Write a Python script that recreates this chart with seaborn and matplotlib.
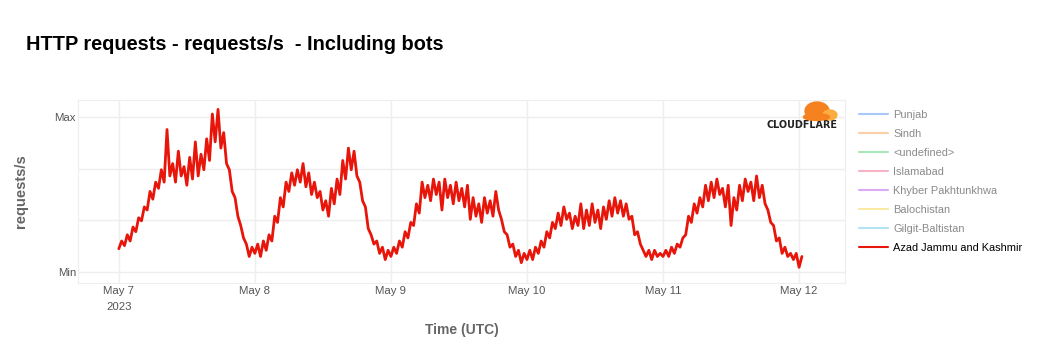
import matplotlib.pyplot as plt
from matplotlib.lines import Line2D
from matplotlib.patches import Ellipse
import pandas as pd
import seaborn as sns

# -----------------------------------------------------------------------------
# DATOS (valores normalizados: 0 = Min, 1 = Max), cada 30 minutos desde May 7
# -----------------------------------------------------------------------------
may7 = [0.15, 0.20, 0.17, 0.24, 0.20, 0.29, 0.26, 0.35, 0.33, 0.42, 0.40, 0.52,
        0.47, 0.58, 0.54, 0.66, 0.58, 0.92, 0.62, 0.70, 0.58, 0.78, 0.62, 0.68,
        0.56, 0.74, 0.60, 0.84, 0.62, 0.76, 0.66, 0.86, 0.72, 1.02, 0.84, 1.05,
        0.80, 0.90, 0.70, 0.66, 0.52, 0.48, 0.36, 0.30, 0.22, 0.18, 0.10, 0.16]
may8 = [0.12, 0.18, 0.10, 0.20, 0.14, 0.24, 0.20, 0.36, 0.32, 0.48, 0.42, 0.58,
        0.52, 0.64, 0.56, 0.66, 0.58, 0.70, 0.55, 0.64, 0.50, 0.58, 0.48, 0.52,
        0.40, 0.46, 0.36, 0.54, 0.44, 0.60, 0.50, 0.72, 0.60, 0.80, 0.66, 0.78,
        0.62, 0.58, 0.46, 0.42, 0.28, 0.24, 0.18, 0.20, 0.12, 0.16, 0.08, 0.14]
may9 = [0.10, 0.16, 0.12, 0.20, 0.16, 0.26, 0.22, 0.32, 0.30, 0.44, 0.38, 0.58,
        0.48, 0.56, 0.46, 0.60, 0.50, 0.58, 0.40, 0.60, 0.48, 0.56, 0.44, 0.58,
        0.46, 0.54, 0.42, 0.56, 0.34, 0.48, 0.36, 0.44, 0.32, 0.48, 0.38, 0.46,
        0.36, 0.52, 0.40, 0.34, 0.26, 0.24, 0.16, 0.18, 0.10, 0.14, 0.06, 0.12]
may10 = [0.08, 0.14, 0.08, 0.16, 0.12, 0.20, 0.16, 0.26, 0.22, 0.32, 0.28, 0.38,
         0.30, 0.42, 0.34, 0.38, 0.28, 0.36, 0.30, 0.44, 0.28, 0.40, 0.30, 0.44,
         0.32, 0.40, 0.28, 0.42, 0.34, 0.46, 0.36, 0.48, 0.38, 0.46, 0.36, 0.44,
         0.34, 0.36, 0.24, 0.26, 0.18, 0.14, 0.10, 0.14, 0.08, 0.14, 0.10, 0.12]
may11 = [0.10, 0.14, 0.10, 0.16, 0.12, 0.18, 0.16, 0.22, 0.24, 0.36, 0.32, 0.44,
         0.38, 0.48, 0.42, 0.56, 0.46, 0.58, 0.48, 0.60, 0.50, 0.54, 0.42, 0.56,
         0.30, 0.48, 0.40, 0.56, 0.46, 0.60, 0.52, 0.58, 0.46, 0.62, 0.48, 0.56,
         0.44, 0.40, 0.32, 0.30, 0.20, 0.22, 0.12, 0.16, 0.10, 0.12, 0.08, 0.12]
may12 = [0.03, 0.10]

regions = ["Punjab", "Sindh", "<undefined>", "Islamabad", "Khyber Pakhtunkhwa",
           "Balochistan", "Gilgit-Baltistan", "Azad Jammu and Kashmir"]
region_colors = ["#a9c8f7", "#fbd0a6", "#a8e5bb", "#f7b3c4", "#dcaaf2",
                 "#f9e9a3", "#b3e3f3", "#e8150a"]

tick_dates = ["2023-05-07", "2023-05-08", "2023-05-09", "2023-05-10",
              "2023-05-11", "2023-05-12"]
tick_labels = ["May 7\n2023", "May 8", "May 9", "May 10", "May 11", "May 12"]
y_ticks = [0, 1 / 3, 2 / 3, 1]
y_labels = ["Min", "", "", "Max"]

values = may7 + may8 + may9 + may10 + may11 + may12
df = pd.DataFrame({
    "time": pd.date_range("2023-05-07 00:00", periods=len(values), freq="30min"),
    "value": values,
})

# -----------------------------------------------------------------------------
# GRAFICO
# -----------------------------------------------------------------------------
sns.set_style("white")
plt.rcParams["font.family"] = ["Liberation Sans", "DejaVu Sans"]

fig = plt.figure(figsize=(10.4, 3.6), dpi=100)
ax = fig.add_axes([0.075, 0.214, 0.7375, 0.508])

sns.lineplot(data=df, x="time", y="value", color=region_colors[-1],
             linewidth=2, ax=ax)

ax.set_xlim(pd.Timestamp("2023-05-06 16:48"), pd.Timestamp("2023-05-12 08:06"))
ax.set_ylim(-0.071, 1.11)
ax.set_xticks(pd.to_datetime(tick_dates))
ax.set_xticklabels(tick_labels, linespacing=1.75)
ax.set_yticks(y_ticks)
ax.set_yticklabels(y_labels)
ax.tick_params(axis="both", length=0, labelsize=8.2, colors="#555555")
ax.tick_params(axis="x", pad=2)
ax.tick_params(axis="y", pad=1.5)
ax.grid(True, color="#eeeeee", linewidth=1)
ax.set_axisbelow(True)
for spine in ax.spines.values():
    spine.set_color("#eeeeee")

ax.set_xlabel("Time (UTC)", fontsize=10, fontweight="bold", color="#666666",
              labelpad=8)
ax.set_ylabel("requests/s", fontsize=10.5, fontweight="bold", color="#666666",
              labelpad=19)

fig.text(0.025, 0.877, "HTTP requests - requests/s  - Including bots",
         fontsize=14.4, fontweight="bold", color="black", va="center")

# Leyenda (solo la última serie está activa)
handles = [Line2D([0], [0], color=c, linewidth=1.5) for c in region_colors]
leg = fig.legend(handles, regions, loc="upper left",
                 bbox_to_anchor=(0.816, 0.722), frameon=False, fontsize=7.9,
                 handlelength=2.7, handletextpad=0.45, labelspacing=0.82)
for i, txt in enumerate(leg.get_texts()):
    txt.set_color("black" if i == len(regions) - 1 else "#8a8a8a")

# Logo Cloudflare aproximado
for (cx, cy, w, h, c) in [(0.7856, 0.6917, 0.0231, 0.05, "#f6821f"),
                          (0.798, 0.6806, 0.0135, 0.0278, "#fbad41"),
                          (0.785, 0.675, 0.025, 0.019, "#f6821f")]:
    fig.patches.append(Ellipse((cx, cy), w, h, transform=fig.transFigure,
                               color=c, zorder=5))
fig.text(0.7707, 0.652, "CLOUDFLARE", fontsize=6.9, fontweight="bold",
         family="DejaVu Sans", color="#222222", ha="center", va="center")

fig.savefig("out.png", dpi=100, facecolor="white")
